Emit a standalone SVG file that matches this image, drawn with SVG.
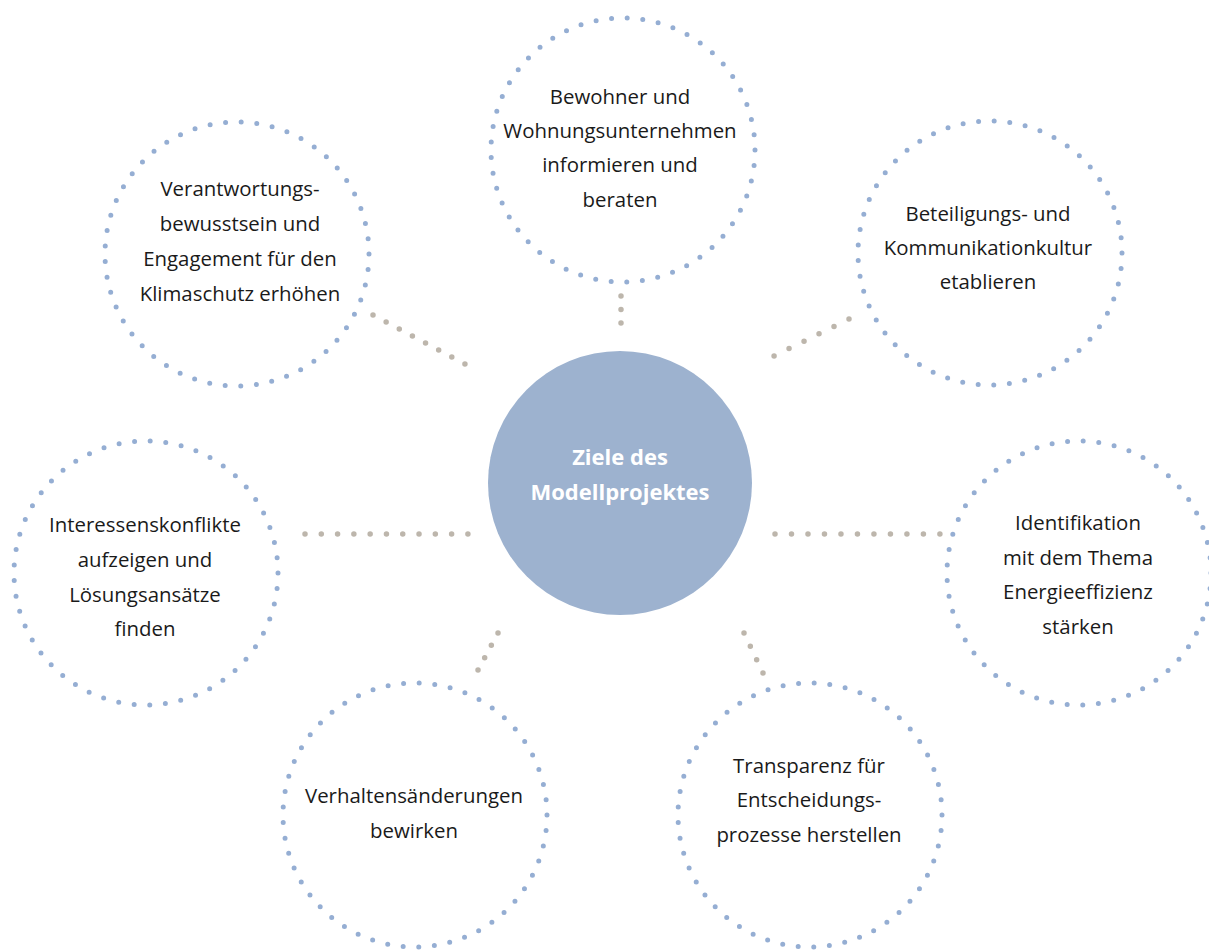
<svg xmlns="http://www.w3.org/2000/svg" width="1209" height="950" viewBox="0 0 1209 950">
<style>
.ring{fill:none;stroke:#95aed3;stroke-width:5;stroke-linecap:round;stroke-dasharray:0 15.65}
.con{fill:none;stroke:#bdb6ac;stroke-width:5.5;stroke-linecap:round}
.lbl{font-family:"Open Sans","Noto Sans","DejaVu Sans",sans-serif;font-size:20.4px;fill:#1a1a1a;text-anchor:middle}
.ctr{font-family:"Open Sans","Noto Sans","DejaVu Sans",sans-serif;font-size:22px;font-weight:bold;fill:#ffffff;text-anchor:middle}
</style>
<rect width="1209" height="950" fill="#ffffff"/>
<g id="connectors">
<line class="con" x1="621" y1="296" x2="621" y2="323" stroke-dasharray="0 13.49"/>
<line class="con" x1="373" y1="315" x2="465" y2="364" stroke-dasharray="0 14.88"/>
<line class="con" x1="849" y1="319" x2="774" y2="356" stroke-dasharray="0 16.71"/>
<line class="con" x1="305" y1="534" x2="468" y2="534" stroke-dasharray="0 16.29"/>
<line class="con" x1="775" y1="534" x2="940" y2="534" stroke-dasharray="0 16.49"/>
<line class="con" x1="498" y1="633" x2="478" y2="670" stroke-dasharray="0 14.01"/>
<line class="con" x1="744" y1="633" x2="763" y2="673" stroke-dasharray="0 14.75"/>
</g>
<g id="center">
<circle cx="620" cy="483" r="132" fill="#9db2cf"/>
<text class="ctr" x="620" y="465">Ziele des</text>
<text class="ctr" x="620" y="500">Modellprojektes</text>
</g>
<g id="node-top">
<circle class="ring" cx="623" cy="150" r="132"/>
<text class="lbl" x="620" y="104">Bewohner und</text>
<text class="lbl" x="620" y="138">Wohnungsunternehmen</text>
<text class="lbl" x="620" y="172">informieren und</text>
<text class="lbl" x="620" y="207">beraten</text>
</g>
<g id="node-top-left">
<circle class="ring" cx="237" cy="254" r="132"/>
<text class="lbl" x="240" y="196">Verantwortungs-</text>
<text class="lbl" x="240" y="231">bewusstsein und</text>
<text class="lbl" x="240" y="266">Engagement für den</text>
<text class="lbl" x="240" y="301">Klimaschutz erhöhen</text>
</g>
<g id="node-top-right">
<circle class="ring" cx="990" cy="253" r="132"/>
<text class="lbl" x="988" y="221">Beteiligungs- und</text>
<text class="lbl" x="988" y="255">Kommunikationkultur</text>
<text class="lbl" x="988" y="289">etablieren</text>
</g>
<g id="node-left">
<circle class="ring" cx="146" cy="573" r="132"/>
<text class="lbl" x="145" y="532">Interessenskonflikte</text>
<text class="lbl" x="145" y="567">aufzeigen und</text>
<text class="lbl" x="145" y="602">Lösungsansätze</text>
<text class="lbl" x="145" y="636">finden</text>
</g>
<g id="node-right">
<circle class="ring" cx="1079" cy="573" r="132"/>
<text class="lbl" x="1078" y="530">Identifikation</text>
<text class="lbl" x="1078" y="565">mit dem Thema</text>
<text class="lbl" x="1078" y="599">Energieeffizienz</text>
<text class="lbl" x="1078" y="634">stärken</text>
</g>
<g id="node-bottom-left">
<circle class="ring" cx="415" cy="815" r="132"/>
<text class="lbl" x="414" y="803">Verhaltensänderungen</text>
<text class="lbl" x="414" y="838">bewirken</text>
</g>
<g id="node-bottom-right">
<circle class="ring" cx="810" cy="815" r="132"/>
<text class="lbl" x="809" y="773">Transparenz für</text>
<text class="lbl" x="809" y="807">Entscheidungs-</text>
<text class="lbl" x="809" y="842">prozesse herstellen</text>
</g>
</svg>
